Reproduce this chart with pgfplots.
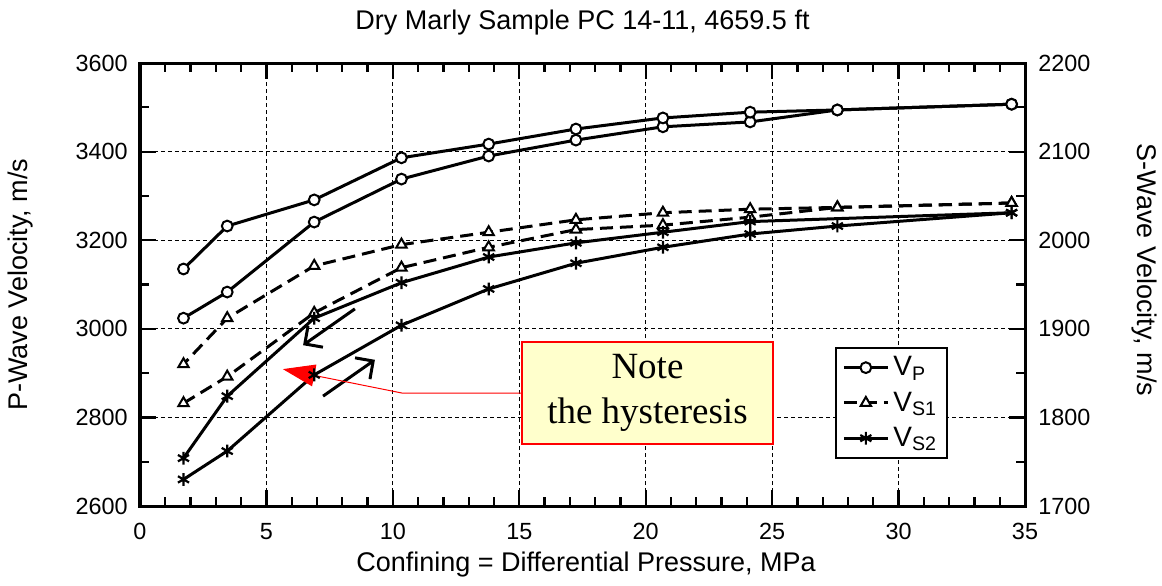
\documentclass[border=0pt]{standalone}
\usepackage{fontspec}
\setmainfont{Liberation Sans}
\newfontfamily\notefont{Liberation Serif}
\usepackage{pgfplots}
\pgfplotsset{compat=1.18}
\usetikzlibrary{arrows.meta}
\definecolor{noteyellow}{RGB}{255,255,204}

\pgfplotsset{
  common/.style={
    scale only axis, width=442.5pt, height=221.5pt,
    at={(0pt,0pt)}, anchor=south west,
    xmin=0, xmax=35,
    tick align=inside,
    major tick length=8pt, minor tick length=4.5pt,
    tick style={black, line width=1.1pt},
    axis line style={line width=1.5pt},
    /pgf/number format/assume math mode=true,
    /pgf/number format/1000 sep={},
    tick label style={font=\fontsize{11.7}{14}\selectfont},
    label style={font=\fontsize{13.5}{16}\selectfont},
    title style={font=\fontsize{13.5}{16}\selectfont},
  },
  vpstyle/.style={black, line width=1.5pt, mark=*, mark size=2.7pt,
    mark options={fill=white, solid, line width=1pt}},
  vs1style/.style={black, line width=1.5pt, dash pattern=on 6.5pt off 3.5pt,
    mark=triangle*, mark size=3pt, mark options={fill=white, solid, line width=1pt}},
  vs2style/.style={black, line width=1.5pt, mark=asterisk, mark size=3.2pt,
    mark options={solid, line width=1.1pt}},
}

\begin{document}
\begin{tikzpicture}
\begin{axis}[common,
  ymin=2600, ymax=3600,
  xtick={0,5,...,35}, minor x tick num=4,
  ytick={2600,2800,...,3600}, minor y tick num=1,
  ytick pos=left,
  grid=major,
  major grid style={black, line width=0.6pt, dash pattern=on 2pt off 1.5pt},
  xticklabel style={inner sep=0pt, anchor=north, yshift=-8.5pt},
  yticklabel style={inner sep=0pt, anchor=east, xshift=-6pt},
  title={Dry Marly Sample PC 14-11, 4659.5 ft},
  title style={at={(axis description cs:0.5,1.0632)}, anchor=center},
  xlabel={Confining = Differential Pressure, MPa},
  xlabel style={at={(axis description cs:0.504,-0.1332)}, anchor=center},
  ylabel={P-Wave Velocity, m/s},
  ylabel style={at={(axis description cs:-0.1345,0.499)}, anchor=center},
]
% VP loading
\addplot[vpstyle] coordinates {(1.72,3024) (3.45,3083) (6.89,3241) (10.34,3338) (13.79,3390) (17.24,3426) (20.68,3456) (24.13,3467) (27.58,3494) (34.47,3507)};
% VP unloading
\addplot[vpstyle] coordinates {(34.47,3507) (27.58,3494) (24.13,3489) (20.68,3476) (17.24,3451) (13.79,3417) (10.34,3386) (6.89,3291) (3.45,3232) (1.72,3135)};
\end{axis}

\begin{axis}[common,
  ymin=1700, ymax=2200,
  xtick=\empty,
  ytick={1700,1800,...,2200}, minor y tick num=1,
  ytick pos=right, yticklabel pos=right,
  yticklabel style={inner sep=0pt, anchor=west, xshift=6.5pt},
  ylabel={S-Wave Velocity, m/s},
  ylabel style={at={(axis description cs:1.1345,0.5327)}, anchor=center, rotate=180},
  legend image code/.code={\draw[mark repeat=2,mark phase=2,#1] plot coordinates {(0pt,0pt) (11pt,0pt) (22pt,0pt)};},
  legend style={at={(axis description cs:0.913,0.36)}, anchor=north east,
    draw=black, line width=1pt, fill=white,
    font=\fontsize{14}{16}\selectfont, row sep=2.5pt,
    inner xsep=3pt, inner ysep=2.5pt},
  legend cell align=left,
]
\addlegendimage{vpstyle}
\addlegendentry{V\textsubscript{P}}
% VS1 loading
\addplot[vs1style] coordinates {(1.72,1816) (3.45,1846) (6.89,1918) (10.34,1969) (13.79,1992) (17.24,2012) (20.68,2017) (24.13,2026) (27.58,2037) (34.47,2042)};
\addlegendentry{V\textsubscript{S1}}
% VS1 unloading
\addplot[vs1style, forget plot] coordinates {(34.47,2042) (27.58,2037) (24.13,2035) (20.68,2031) (17.24,2023) (13.79,2009) (10.34,1995) (6.89,1971) (3.45,1912) (1.72,1860)};
% VS2 loading
\addplot[vs2style] coordinates {(1.72,1730) (3.45,1762) (6.89,1848) (10.34,1904) (13.79,1945) (17.24,1974) (20.68,1992) (24.13,2007) (27.58,2016) (34.47,2031)};
\addlegendentry{V\textsubscript{S2}}
% VS2 unloading
\addplot[vs2style, forget plot] coordinates {(34.47,2031) (24.13,2021) (20.68,2009) (17.24,1997) (13.79,1981) (10.34,1952) (6.89,1912) (3.45,1824) (1.72,1754)};

% annotations
\draw[black, line width=1.5pt, -{Straight Barb[length=6.5pt,width=13pt]}] (axis cs:8.50,1922.5) -- (axis cs:6.45,1881.5);
\draw[black, line width=1.5pt, -{Straight Barb[length=6.5pt,width=13pt]}] (axis cs:7.24,1824) -- (axis cs:9.29,1865);
\draw[red, line width=0.5pt, -{Triangle[length=16pt,width=11pt]}] (axis cs:15.10,1827.5) -- (axis cs:10.36,1827.5) -- (axis cs:5.65,1854.5);
\node[draw=red, line width=0.6pt, fill=noteyellow, minimum width=125.5pt, minimum height=51pt,
  inner sep=0pt, align=center, font=\notefont\fontsize{18.5}{22.5}\selectfont]
  at (axis cs:20.07,1827.5) {Note\\the hysteresis};
\end{axis}
\pgfresetboundingbox
\path[use as bounding box] (-70pt,-39.5pt) rectangle (511pt,253pt);
\end{tikzpicture}
\end{document}
